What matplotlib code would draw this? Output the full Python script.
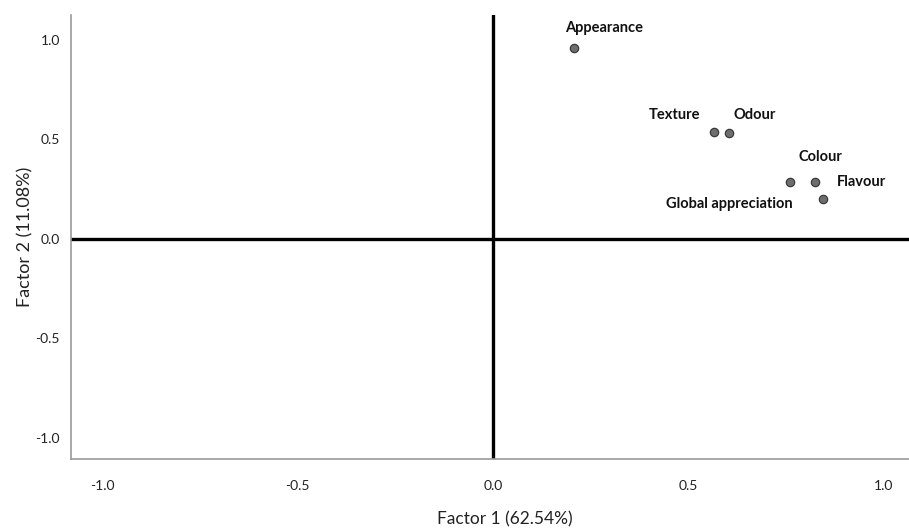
import matplotlib
matplotlib.use("Agg")
import matplotlib.pyplot as plt

plt.rcParams['font.family'] = ['Lato', 'DejaVu Sans']

# Factor loadings for each sensory attribute
attributes = ['Appearance', 'Texture', 'Odour', 'Global appreciation', 'Colour', 'Flavour']
factor1 = [0.207, 0.566, 0.604, 0.760, 0.824, 0.845]
factor2 = [0.960, 0.538, 0.533, 0.286, 0.286, 0.201]

# label offsets in points (dx, dy) and alignment
offsets = {
    'Appearance': (22, 14, 'center'),
    'Texture': (-10, 12, 'right'),
    'Odour': (3, 13, 'left'),
    'Global appreciation': (2, -16, 'right'),
    'Colour': (4, 18, 'center'),
    'Flavour': (10, 12, 'left'),
}

fig = plt.figure(figsize=(9.09, 5.30), dpi=100)
ax = fig.add_axes([0.078, 0.134, 0.922, 0.838])

ax.axhline(0, color='black', lw=2.4, zorder=1)
ax.axvline(0, color='black', lw=2.4, zorder=1)

ax.scatter(factor1, factor2, s=36, color='#6e6e6e', edgecolors='#3a3a3a',
           linewidths=0.9, zorder=3)

for name, x, y in zip(attributes, factor1, factor2):
    dx, dy, ha = offsets[name]
    ax.annotate(name, (x, y), xytext=(dx, dy), textcoords='offset points',
                ha=ha, va='center', fontsize=10.5, fontweight='bold', color='#111111')

ax.set_xlim(-1.08, 1.065)
ax.set_ylim(-1.106, 1.126)
ax.set_xticks([-1.0, -0.5, 0.0, 0.5, 1.0])
ax.set_yticks([-1.0, -0.5, 0.0, 0.5, 1.0])
ax.set_xticklabels(['-1.0', '-0.5', '0.0', '0.5', '1.0'])
ax.set_yticklabels(['-1.0', '-0.5', '0.0', '0.5', '1.0'])

for side in ['top', 'right']:
    ax.spines[side].set_visible(False)
for side in ['left', 'bottom']:
    ax.spines[side].set_color('#999999')
    ax.spines[side].set_linewidth(1.2)

ax.tick_params(axis='both', length=0, labelsize=10, colors='#222222')
ax.tick_params(axis='x', pad=15)
ax.tick_params(axis='y', pad=8)

ax.set_xlabel('Factor 1 (62.54%)', fontsize=12.5, color='#222222')
ax.set_ylabel('Factor 2 (11.08%)', fontsize=13, color='#222222')
ax.xaxis.set_label_coords(0.518, -0.118)
ax.yaxis.set_label_coords(-0.045, 0.5)

fig.savefig('out.png', dpi=100)
